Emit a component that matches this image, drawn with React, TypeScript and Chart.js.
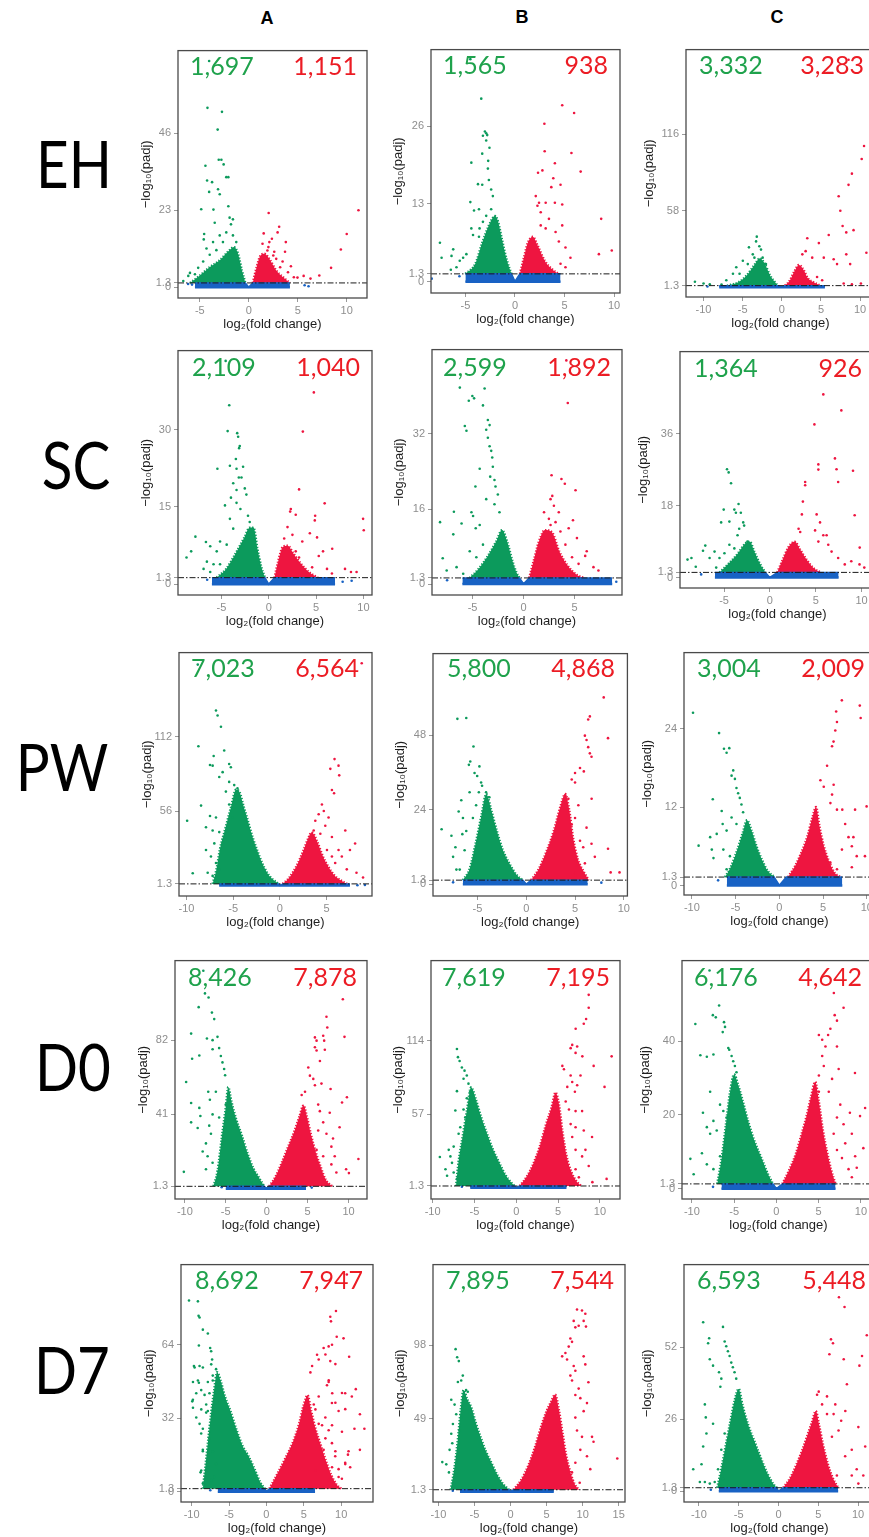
import React, { useEffect, useRef } from "react";
import { Chart, registerables } from "chart.js";

Chart.register(...registerables);

// ---------- colours ----------
const GREEN = "#0c9a5c";
const RED = "#ee1540";
const BLUE = "#1862c4";
const NUM_GREEN = "#1fa24c";
const NUM_RED = "#ec1c24";

// ---------- labels ----------
const ROW_LABELS = ["EH", "SC", "PW", "D0", "D7"];
const COL_LABELS = ["A", "B", "C"];
const DOWN_COUNTS = [
  ["1,697", "1,565", "3,332"],
  ["2,109", "2,599", "1,364"],
  ["7,023", "5,800", "3,004"],
  ["8,426", "7,619", "6,176"],
  ["8,692", "7,895", "6,593"],
];
const UP_COUNTS = [
  ["1,151", "938", "3,283"],
  ["1,040", "1,892", "926"],
  ["6,564", "4,868", "2,009"],
  ["7,878", "7,195", "4,642"],
  ["7,947", "7,544", "5,448"],
];
const X_TITLE = "log\u2082(fold change)";
const Y_TITLE = "\u2212log\u2081\u2080(padj)";

// ---------- tick values ----------
const EH_A_XT = [-5, 0, 5, 10]; const EH_A_YT = [0, 1.3, 23, 46];
const EH_B_XT = [-5, 0, 5, 10]; const EH_B_YT = [0, 1.3, 13, 26];
const EH_C_XT = [-10, -5, 0, 5, 10]; const EH_C_YT = [1.3, 58, 116];
const SC_A_XT = [-5, 0, 5, 10]; const SC_A_YT = [0, 1.3, 15, 30];
const SC_B_XT = [-5, 0, 5]; const SC_B_YT = [0, 1.3, 16, 32];
const SC_C_XT = [-5, 0, 5, 10]; const SC_C_YT = [0, 1.3, 18, 36];
const PW_A_XT = [-10, -5, 0, 5]; const PW_A_YT = [1.3, 56, 112];
const PW_B_XT = [-5, 0, 5, 10]; const PW_B_YT = [0, 1.3, 24, 48];
const PW_C_XT = [-10, -5, 0, 5, 10]; const PW_C_YT = [0, 1.3, 12, 24];
const D0_A_XT = [-10, -5, 0, 5, 10]; const D0_A_YT = [1.3, 41, 82];
const D0_B_XT = [-10, -5, 0, 5, 10]; const D0_B_YT = [1.3, 57, 114];
const D0_C_XT = [-10, -5, 0, 5, 10]; const D0_C_YT = [0, 1.3, 20, 40];
const D7_A_XT = [-10, -5, 0, 5, 10]; const D7_A_YT = [0, 1.3, 32, 64];
const D7_B_XT = [-10, -5, 0, 5, 10, 15]; const D7_B_YT = [1.3, 49, 98];
const D7_C_XT = [-10, -5, 0, 5, 10]; const D7_C_YT = [0, 1.3, 26, 52];

// ---------- data: [x, y, x, y, ...] ----------
// EH / A
const EH_A_GENV = [-6,1.3, -5,3.5, -4,6, -3,8, -2,11, -1.5,12, -1.1,10, -0.7,5, -0.35,1.3];
const EH_A_GPTS = [-4.05,67.6, -4.22,53.6, -2.74,52.4, -3.18,47.1, -3.07,38.1, -2.8,38.1, -2.57,36.7, -4.43,36.3, -4.26,31.9, -3.75,31.4, -2.3,32.9, -2.09,32.9, -4.05,28.5, -3.14,29.3, -2.97,27.8, -4.86,23.3, -3.61,23.2, -2.09,24.2, -1.96,20.8, -3.48,19.3, -4.56,15.9, -4.6,14.3, -4.32,11.6, -1.62,20.3, -1.82,18.8, -2.97,15.5, -3.65,13.5, -2.3,16.4, -2.64,13.5, -3.31,11.1, -3.99,9.7, -4.66,7.7, -5.17,5.8, -6.01,4.3, -6.18,3.4, -6.69,1.9, -5.5,3.9, -1.62,15.5, -1.28,13.5];
const EH_A_RENV = [0.4,1.3, 0.8,6, 1.2,9.5, 1.6,10, 2.2,8, 2.8,5, 3.5,3, 4.2,1.3];
const EH_A_RPTS = [2.03,22.2, 3.1,18.1, 2.94,16.4, 1.52,16.1, 3.78,13.5, 2.36,14.5, 2.1,13.5, 2.6,10.6, 3.7,10.6, 4.3,6.3, 4.97,2.9, 5.6,3.4, 6.3,2.6, 7.2,3.5, 8.4,5.8, 9.4,11.3, 10.0,15.9, 11.2,23.0, 3.45,7.7, 1.76,7.7, 2.0,12, 1.4,13, 2.8,8.5, 3.2,6, 4.0,4.5, 4.6,3.0, 1.9,11, 2.5,9.5];
const EH_A_BAND = [-5.5,1.3, -0.35,1.3, 0,0.05, 0.4,1.3, 4.2,1.3];
const EH_A_BPTS = [5.7,0.6, 6.1,0.3, -5.8,0.8, -6.2,1.0];
// EH / B
const EH_B_GENV = [-5,1.3, -4,3, -3.3,6.5, -2.6,9.5, -2,11, -1.7,10, -1.3,7, -0.8,3.5, -0.35,1.3];
const EH_B_GPTS = [-3.4,30.6, -4.5,37.2, -3.03,25.1, -3.23,24.4, -2.9,24.8, -2.8,24.5, -2.9,23.6, -2.57,22.4, -3.3,21.4, -4.4,19.9, -2.7,20.2, -3.73,16.3, -3.3,16.2, -2.73,18.9, -2.63,17.0, -2.4,15.4, -2.23,14.3, -4.5,13.3, -4.13,11.9, -3.63,12.1, -4.4,8.9, -3.63,7.5, -7.57,6.5, -7.4,4.0, -6.23,5.4, -6.4,4.3, -5.57,3.5, -5.23,4.0, -4.9,4.6, -6.47,2.0, -5.9,2.4, -4.23,7.8, -3.57,8.9, -3.23,10.0, -2.9,11.0, -2.4,12.1];
const EH_B_RENV = [0.5,1.3, 0.9,4, 1.3,6.5, 1.8,7.5, 2.3,6, 3,3.5, 3.8,2, 4.4,1.3];
const EH_B_RPTS = [4.77,29.5, 5.97,28.2, 2.97,26.4, 3.0,21.8, 5.7,21.5, 4.03,19.8, 6.63,18.4, 2.33,18.2, 2.77,18.6, 3.87,17.3, 3.67,15.8, 4.6,16.2, 2.1,14.3, 2.43,13.2, 3.1,13.2, 4.03,13.2, 4.77,12.9, 2.27,12.7, 2.6,11.6, 3.43,10.5, 2.6,9.4, 8.7,10.5, 9.77,5.2, 8.47,4.6, 4.1,8.3, 4.77,9.4, 3.1,8.9, 4.43,6.7, 5.1,5.7, 5.6,4.0, 5.1,2.4, 4.6,3.0];
const EH_B_BAND = [-5,1.3, -0.35,1.3, 0,0.05, 0.5,1.3, 4.6,1.3];
const EH_B_BPTS = [-8.4,0.5, -5.6,0.9];
// EH / C
const EH_C_GENV = [-7,1.3, -5.5,4, -4.5,9, -3.5,17, -2.8,22, -2.2,18, -1.5,9, -0.9,4, -0.5,1.3];
const EH_C_GPTS = [-3.2,38.4, -4.2,30.3, -2.87,31.1, -3.71,25.0, -2.66,28.6, -4.98,20.1, -5.82,15.2, -6.24,10.3, -7.09,5.4, -11.1,4.2, -10.0,2.9, -9.2,2.4, -7.7,2.2, -3.29,34.8, -2.45,22.5, -3.5,22.5, -4.35,17.6, -5.4,10.3, -2.03,17.6];
const EH_C_RENV = [0.4,1.3, 1,5, 1.6,12, 2.2,17, 2.8,13, 3.3,7, 4,4, 5,1.3];
const EH_C_RPTS = [3.25,37.2, 3.04,27.4, 2.62,25.0, 3.88,22.5, 4.73,33.5, 5.36,22.5, 5.99,39.6, 7.26,69.0, 7.47,58.0, 7.76,46.5, 8.23,41.6, 8.52,77.6, 8.95,86.1, 8.52,172.3, 9.16,43.3, 8.23,25.0, 8.73,17.6, 10.2,97.2, 10.5,107, 10.8,26.2, 6.62,21.3, 7.05,17.6, 7.9,2.9, 8.95,2.4, 10.1,2.9, 4.5,7.8, 5.15,5.4];
const EH_C_BAND = [-8,1.3, -0.5,1.3, 0,0.05, 0.4,1.3, 5.5,1.3];
const EH_C_BPTS = [-9.5,0.6];
// SC / A
const SC_A_GENV = [-5.5,1.3, -4.5,3, -3.5,6, -2.6,9, -2,11, -1.6,11, -1.2,7, -0.8,3.5, -0.4,1.3];
const SC_A_GPTS = [-4.55,43.3, -4.17,34.7, -4.34,29.7, -3.33,29.3, -3.23,28.6, -3.06,26.8, -3.13,26.4, -3.47,24.3, -5.42,22.4, -4.1,23.0, -3.4,22.4, -2.71,22.8, -3.16,20.7, -2.88,20.7, -3.75,19.6, -2.53,18.6, -3.4,18.3, -3.99,16.8, -3.4,15.8, -2.36,17.4, -4.62,15.3, -2.99,14.6, -5.14,8.3, -7.74,9.25, -6.63,8.2, -8.19,6.4, -8.68,5.2, -6.18,7.4, -5.49,6.4, -6.53,4.4, -5.83,3.9, -6.88,3.0, -6.18,2.4, -4.1,12.7, -3.75,10.8, -4.44,7.7, -5.14,3.9, -2.19,13.3, -2.01,12.1];
const SC_A_RENV = [0.6,1.3, 1,4.5, 1.5,7.3, 2,7.5, 2.6,6, 3.4,4, 4.3,2.3, 5.2,1.3];
const SC_A_RPTS = [4.76,37.2, 3.6,29.6, 3.2,18.4, 5.9,15.7, 2.33,14.6, 2.85,13.5, 2.26,14.1, 4.9,13.3, 4.86,12.4, 4.34,9.9, 5.1,9.1, 1.98,11.1, 2.5,9.6, 3.54,8.3, 1.63,8.9, 6.7,6.9, 5.73,6.4, 5.28,5.5, 9.96,12.7, 10.03,10.5, 8.05,3.0, 8.68,2.4, 9.27,2.4, 6.15,3.0, 6.67,2.1, 4.58,3.3, 3.2,5.2, 2.85,6.4];
const SC_A_BAND = [-6,1.3, -0.4,1.3, 0,0.05, 0.6,1.3, 7,1.3];
const SC_A_BPTS = [8.75,0.7, 6.67,0.7, -6.5,0.9, 7.8,0.5];
// SC / B
const SC_B_GENV = [-5.3,1.3, -4.5,3, -3.5,6, -2.7,9, -2.1,11.5, -1.6,9, -1.1,5, -0.7,2.5, -0.4,1.3];
const SC_B_GPTS = [-6.25,41.9, -3.82,41.7, -5.02,40.1, -4.85,39.6, -5.37,39.1, -3.98,38.1, -5.76,33.7, -5.6,32.7, -3.5,35.0, -3.33,33.9, -3.66,32.9, -3.5,31.2, -3.33,29.4, -3.17,28.4, -4.3,24.6, -3.07,27.0, -3.01,25.0, -3.27,22.9, -2.85,22.2, -2.75,20.8, -2.52,19.1, -4.72,20.8, -3.66,18.1, -2.85,17.0, -2.36,15.3, -5.11,15.3, -4.95,14.5, -6.83,15.4, -8.19,13.2, -6.08,12.9, -6.89,10.6, -4.69,11.9, -4.3,12.6, -3.98,8.4, -7.93,5.5, -7.54,2.9, -5.92,2.2, -6.57,3.6, -5.28,7.0, -4.63,5.7];
const SC_B_RENV = [0.55,1.3, 1,5, 1.5,9, 2.1,11.5, 2.8,11, 3.5,7, 4.3,4, 5.2,2, 6,1.3];
const SC_B_RPTS = [4.2,47.7, 4.34,38.6, 2.75,23.2, 3.72,22.4, 4.05,21.4, 5.1,20.0, 2.82,18.8, 2.65,18.1, 2.98,16.7, 2.01,15.3, 3.14,13.2, 4.85,13.6, 2.65,12.6, 3.62,11.2, 4.43,11.9, 5.24,9.8, 6.2,7.0, 6.05,6.0, 6.86,3.6, 7.35,2.9, 4.11,8.4, 4.76,5.7, 5.4,4.3, 2.49,13.9, 3.46,15.3];
const SC_B_BAND = [-6,1.3, -0.4,1.3, 0,0.05, 0.55,1.3, 8.7,1.3];
const SC_B_BPTS = [-7.5,0.8, 9.1,0.5];
// SC / C
const SC_C_GENV = [-5.5,1.3, -4.5,3.5, -3.5,6, -2.7,8.5, -2.2,9, -1.7,6.5, -1.1,3.5, -0.5,1.3];
const SC_C_GPTS = [-4.68,27.1, -4.5,26.3, -4.24,23.6, -3.42,18.4, -3.88,17.0, -3.71,16.2, -5.04,17.0, -5.32,13.8, -4.42,14.0, -3.17,16.2, -2.91,13.8, -2.81,13.0, -2.45,9.0, -7.05,8.0, -7.3,6.7, -8.99,4.5, -8.56,4.9, -8.09,2.7, -6.58,4.9, -6.04,6.5, -5.5,4.9, -4.96,6.1, -4.42,8.2, -3.88,7.3, -5.86,2.5, -3.35,12.2, -3.53,10.6];
const SC_C_RENV = [0.8,1.3, 1.4,4.5, 2,7.5, 2.7,9, 3.3,7, 4,4.5, 4.7,2.5, 5.5,1.3];
const SC_C_RPTS = [5.83,45.8, 7.8,41.8, 4.86,38.3, 7.1,29.8, 5.29,28.3, 5.29,27.0, 7.27,27.1, 9.07,26.7, 7.45,23.9, 3.85,23.9, 3.85,23.1, 3.6,19.0, 5.1,15.8, 3.49,15.8, 5.47,13.8, 9.25,15.6, 3.13,12.2, 3.31,11.4, 4.93,11.8, 5.83,10.6, 6.19,10.6, 9.8,7.5, 6.73,6.5, 7.45,4.9, 8.17,3.3, 8.88,4.1, 6.37,8.2, 5.29,9.0, 9.78,3.3, 10.3,2.5];
const SC_C_BAND = [-6,1.3, -0.5,1.3, 0,0.05, 0.8,1.3, 7.5,1.3];
const SC_C_BPTS = [-7.5,0.8];
// PW / A
const PW_A_GENV = [-7.2,1.3, -6.8,12, -6.4,28, -5.8,44, -5.2,60, -4.7,72, -4.3,70, -3.9,60, -3.6,53, -2.9,36, -2.4,26, -1.9,17, -1.3,9, -0.8,4.9, -0.1,1.3];
const PW_A_GPTS = [-8.79,166, -6.84,131.5, -6.67,127.8, -6.31,119.3, -8.72,104.7, -5.96,101.5, -7.09,97.4, -7.48,90.6, -7.2,90.1, -5.43,91.3, -5.25,88.9, -6.13,85.2, -6.49,81.6, -8.44,60.1, -9.93,48.7, -7.48,52.3, -6.84,51.1, -7.2,41.4, -6.49,40.2, -6.13,31.7, -7.02,31.7, -7.91,26.8, -7.38,21.9, -6.84,17.0, -6.49,12.2, -9.33,9.3, -7.73,9.7, -7.2,7.3, -7.91,43.8, -5.43,60.9, -5.07,51.1, -5.78,70.6, -4.89,75.5, -4.54,73.0, -5.43,77.9];
const PW_A_RENV = [0.3,1.3, 1,6, 1.8,15, 2.5,26, 3,35, 3.4,40, 4,33, 4.6,22, 5.2,14, 5.8,8, 6.5,4, 7.2,1.3];
const PW_A_RPTS = [8.76,167, 5.85,95, 6.28,90.1, 5.4,87.7, 6.35,82.8, 5.57,71.8, 5.8,69.4, 4.5,60.9, 4.7,56, 4.15,53.6, 5.21,51.1, 3.79,48.7, 3.62,41.4, 4.33,39.0, 4.86,45.0, 5.57,36.5, 7.0,41.4, 7.5,26.8, 8.05,31.6, 6.63,21.9, 5.92,17.0, 8.2,9.7, 8.9,6.1, 7.16,12.2, 6.28,26.8, 5.57,21.9, 5.04,26.8];
const PW_A_BAND = [-6.5,1.3, -0.1,1.3, 0,0.05, 0.3,1.3, 7.5,1.3];
const PW_A_BPTS = [9.1,0.5, 8.3,0.3];
// PW / B
const PW_B_GENV = [-6.5,1.3, -5.8,5, -5.2,13, -4.6,22, -4.1,29, -3.6,24, -3,17, -2.4,11, -1.7,6.5, -1,3, -0.35,1.3];
const PW_B_GPTS = [-7.06,53.2, -6.15,53.5, -5.41,44.3, -5.74,39.5, -5.88,38.4, -4.8,37.9, -5.3,35.8, -5.03,34.8, -4.63,32.7, -4.53,31.7, -4.86,29.6, -5.81,29.6, -6.66,27.0, -6.93,23.4, -8.68,17.7, -7.67,15.6, -6.55,16.1, -7.26,11.9, -7.5,8.8, -7.16,4.7, -6.49,21.3, -6.15,17.1, -5.47,21.3, -5.14,25.4, -4.12,29.6, -3.78,28.0, -6.82,4.7, -6.32,10.9];
const PW_B_RENV = [0.5,1.3, 1.3,5, 2,10, 2.8,17, 3.5,25, 4,29, 4.4,24, 4.8,15, 5.3,8, 5.9,4, 6.4,1.3];
const PW_B_RPTS = [7.3,70.9, 7.94,60.1, 6.52,54.0, 6.35,53.0, 8.38,47.0, 6.01,47.8, 6.18,46.4, 6.35,44.1, 6.52,42.1, 6.69,41.0, 5.9,36.3, 5.0,35.8, 5.51,37.4, 4.66,33.7, 5.0,32.7, 3.99,28.6, 4.32,27.5, 6.7,27.5, 5.34,25.4, 5.0,21.3, 4.66,19.2, 6.18,18.2, 5.51,14.0, 5.84,11.9, 6.69,13.0, 7.03,8.8, 8.38,11.4, 8.65,3.8, 9.56,3.8, 4.66,8.8, 6.01,6.7, 5.0,3.6];
const PW_B_BAND = [-6.5,1.3, -0.35,1.3, 0,0.05, 0.5,1.3, 6.3,1.3];
const PW_B_BPTS = [7.7,0.5, -7.5,0.6];
// PW / C
const PW_C_GENV = [-6.2,1.3, -5.5,3, -4.8,5.5, -4.2,8, -3.7,10, -3.2,8.5, -2.6,6, -2,4, -1.3,2.2, -0.5,1.3];
const PW_C_GPTS = [-9.87,26.4, -6.89,23.3, -6.33,20.9, -6.03,20.3, -5.72,21.0, -5.27,17.6, -5.46,16.8, -5.08,16.3, -4.9,14.9, -4.71,14.1, -4.52,13.4, -4.33,12.4, -4.14,11.2, -7.61,13.2, -6.59,11.4, -6.48,9.4, -6.03,8.4, -5.46,10.4, -7.16,7.9, -7.91,7.4, -9.23,6.1, -7.72,5.5, -7.53,4.2, -6.4,5.5, -5.65,4.5, -6.03,2.5, -5.35,2.0, -4.9,9.4];
const PW_C_RENV = [1,1.3, 1.8,3, 2.5,5, 3.2,7.5, 3.8,10.5, 4.2,12, 4.6,9, 5.1,6, 5.6,4, 6.3,2, 7,1.3];
const PW_C_RPTS = [7.83,33.9, 7.15,28.3, 6.5,26.6, 9.2,27.5, 9.3,25.6, 6.59,25.0, 6.4,23.7, 6.2,22.0, 6.03,21.3, 5.46,18.3, 4.7,16.1, 5.08,15.1, 6.21,15.4, 6.03,13.9, 5.84,12.6, 7.2,11.6, 6.59,11.6, 8.66,11.6, 9.98,12.1, 7.53,9.4, 7.91,7.4, 8.47,7.4, 8.29,6.0, 8.85,4.5, 7.16,5.5, 9.79,4.5, 8.29,2.8, 6.59,2.5, 5.84,3.5, 4.9,5.5];
const PW_C_BAND = [-6,1.3, -0.6,1.3, 0,0.05, 0.8,1.3, 7.2,1.3];
const PW_C_BPTS = [-7,0.8];
// D0 / A
const D0_A_GENV = [-6.5,1.3, -6,10, -5.5,28, -5,45, -4.7,56, -4.3,48, -3.7,38, -3,29, -2.3,19, -1.6,11, -1,6.5, -0.3,1.3];
const D0_A_GPTS = [-7.74,120.3, -7.54,107.8, -7.1,105.5, -8.31,100.2, -6.69,97.2, -6.41,93.6, -9.23,85.6, -7.3,82.9, -6.61,82.0, -6.01,83.8, -8.23,73.5, -9.11,71.7, -6.61,77.0, -5.81,77.6, -5.6,73.2, -5.4,69.7, -5.2,66.1, -5.08,62.6, -9.84,58.9, -7.14,53.5, -6.94,49.1, -9.23,47.3, -8.23,44.6, -8.1,40.1, -9.23,36.6, -8.43,33.5, -7.02,34.8, -7.42,25.0, -6.81,30.3, -7.82,20.5, -7.22,17.9, -6.61,14.3, -7.42,10.7, -10.12,9.3, -6.61,41.0, -5.81,39.3, -6.21,53.5, -5.0,46.4];
const D0_A_RENV = [0.3,1.3, 1,6, 1.8,14, 2.6,23, 3.4,32, 4,40, 4.5,46, 4.9,40, 5.4,30, 6,20, 6.6,12, 7.2,5, 8,1.3];
const D0_A_RPTS = [9.3,104.6, 7.3,94.9, 7.4,89.0, 6.9,84.4, 5.89,83.5, 6.09,81.7, 7.02,81.7, 5.89,78.1, 6.09,76.3, 7.1,76.7, 9.5,83.8, 6.5,70.5, 5.08,66.9, 5.28,62.4, 5.69,60.6, 5.89,57.1, 6.69,58.0, 7.8,55.0, 9.8,50.5, 9.2,47.6, 4.68,53.5, 4.27,51.7, 6.29,46.4, 6.49,42.8, 7.7,41.9, 8.9,33.9, 6.9,36.6, 7.3,30.3, 6.29,32.1, 8.1,27.7, 7.9,23.2, 11.2,16.4, 9.7,10.7, 10.04,8.6, 8.51,8.9, 7.9,13.4, 8.31,17.9, 6.9,17.9, 6.09,21.4];
const D0_A_BAND = [-5,1.3, -0.3,1.3, 0,0.05, 0.3,1.3, 4.8,1.3];
const D0_A_BPTS = [-5.5,0.8, 5.5,0.6];
// D0 / B
const D0_B_GENV = [-7.2,1.3, -6.9,20, -6.4,40, -5.9,60, -5.4,78, -4.8,68, -4.2,55, -3.5,42, -2.8,30, -2,19, -1.3,10, -0.6,4, -0.2,1.3];
const D0_B_GPTS = [-7.09,107.7, -6.97,101.4, -6.77,98.4, -6.5,93.4, -6.18,90.9, -5.91,87.1, -6.3,84.6, -5.71,80.8, -7.09,75.0, -7.28,60.0, -6.3,60.7, -6.1,54.5, -6.69,46.9, -6.89,41.9, -7.48,31.9, -8.07,29.4, -9.13,23.8, -7.87,24.3, -7.68,19.3, -8.46,14.3, -8.27,9.3, -7.48,11.8, -7.09,6.8, -5.91,69.5, -5.51,74.5];
const D0_B_RENV = [0.4,1.3, 1.2,8, 2,18, 2.8,32, 3.5,48, 4.2,62, 4.7,74, 5.1,65, 5.5,45, 6,25, 6.6,12, 7.2,5, 7.8,1.3];
const D0_B_RPTS = [9.06,168.7, 8.66,149.8, 8.66,139.8, 8.35,131.0, 8.07,127.3, 7.1,123.5, 6.69,110.9, 6.5,108.4, 7.28,109.7, 7.09,104.7, 7.9,102.0, 11.4,102.0, 9.25,94.6, 5.51,94.6, 5.7,92.0, 6.5,87.1, 6.69,82.1, 7.68,87.1, 7.28,79.6, 7.01,74.5, 6.1,78.3, 10.55,78.3, 5.91,67.0, 6.3,60.7, 7.09,59.5, 7.87,59.5, 6.5,49.4, 7.09,46.9, 8.07,44.4, 9.06,39.4, 6.69,39.4, 7.09,29.4, 8.27,29.4, 7.87,24.3, 8.66,16.8, 7.09,14.3, 7.48,8.0, 10.8,6.8, 9.1,4.3];
const D0_B_BAND = [-5.5,1.3, -0.2,1.3, 0,0.05, 0.4,1.3, 6,1.3];
const D0_B_BPTS = [-6.5,0.7];
// D0 / C
const D0_C_GENV = [-7,1.3, -6.5,8, -6,17, -5.5,26, -5,31, -4.5,28, -4,24, -3.3,18, -2.6,13, -1.8,8.5, -1,4, -0.4,1.3];
const D0_C_GPTS = [-7.91,59.2, -6.78,49.7, -7.52,47.1, -7.17,46.5, -6.2,45.2, -6.08,43.9, -9.59,44.7, -6.35,42.5, -5.69,38.2, -5.58,37.7, -9.0,36.2, -8.23,35.8, -7.45,36.4, -5.3,36.0, -5.11,34.6, -4.91,33.3, -4.72,31.6, -7.84,26.3, -8.69,20.6, -8.23,16.7, -7.45,18.4, -7.84,14.9, -7.06,15.8, -6.67,22.8, -6.28,21.1, -5.89,19.3, -8.81,9.6, -10.18,8.1, -8.23,6.6, -7.45,5.3, -9.79,3.9, -6.67,8.8, -6.08,10.5];
const D0_C_RENV = [0.7,1.3, 1.5,5, 2.3,9.5, 3,15, 3.6,20, 4.1,25, 4.6,29, 5,24, 5.5,16, 6,10, 6.5,5, 7,1.3];
const D0_C_RPTS = [6.8,53.1, 7.95,49.1, 6.9,47.1, 7.17,45.6, 6.39,43.4, 6.12,41.7, 5.03,41.7, 5.42,40.4, 5.81,38.6, 7.17,38.6, 9.3,31.4, 5.42,36.0, 5.61,33.3, 5.03,30.7, 7.37,32.5, 6.59,29.8, 5.03,26.3, 6.2,26.3, 7.56,22.8, 8.7,20.6, 10.5,21.9, 9.9,19.7, 7.17,19.3, 7.95,17.5, 6.78,14.9, 8.15,12.3, 8.93,14.9, 7.17,10.5, 7.76,8.3, 9.32,8.8, 10.29,11.0, 8.54,5.3, 8.93,3.1, 9.51,5.7];
const D0_C_BAND = [-6.5,1.3, -0.4,1.3, 0,0.05, 0.7,1.3, 7,1.3];
const D0_C_BPTS = [-7.5,0.5];
// D7 / A
const D7_A_GENV = [-8.5,1.3, -8.2,10, -7.8,22, -7.4,34, -7,44, -6.6,52, -6.1,48, -5.5,41, -4.8,35, -4,27, -3.2,20, -2.4,15.5, -1.6,10, -0.8,4, -0.2,1.3];
const D7_A_GPTS = [-10.35,83.2, -9.16,82.8, -9.07,76.5, -8.94,75.8, -8.5,70.5, -7.83,68.8, -9.03,63.6, -7.52,62.5, -7.39,61.1, -9.69,54.7, -8.94,54.7, -7.26,57.5, -9.82,47.7, -9.03,47.4, -8.72,44.2, -7.83,47.7, -7.17,50.5, -9.91,39.3, -9.82,36.5, -9.38,32.3, -8.94,29.5, -8.72,25.3, -8.5,18.2, -8.81,8.4, -8.05,37.9, -8.27,42.1, -7.83,35.1, -6.73,53.3, -9.83,40.0, -9.38,42.8, -8.71,35.8, -8.5,27.4, -8.05,34.4, -7.61,23.2, -7.17,17.6, -6.72,12.0, -8.5,17.6, -7.83,10.6, -7.38,5.0, -6.95,6.4, -8.71,9.2, -8.5,3.6, -7.61,42.8, -7.17,48.4, -9.16,48.4, -9.6,54.0, -8.5,54.0, -7.38,55.4, -6.5,45.6, -6.28,38.6];
const D7_A_RENV = [0.4,1.3, 1.5,8, 2.6,15, 3.6,22, 4.4,30, 5,38, 5.5,42, 6,35, 6.6,27, 7.3,20, 8,13, 8.7,7, 9.4,3, 10,1.3];
const D7_A_RPTS = [10.75,94.5, 9.3,78.6, 8.54,76.1, 8.63,74.1, 9.4,67.4, 10.31,66.7, 7.65,62.5, 8.32,63.2, 6.77,59.6, 6.99,57.5, 8.54,56.8, 11.06,58.7, 6.11,54.7, 5.88,51.9, 8.32,47.7, 8.1,46.3, 8.8,42.8, 6.99,41.4, 10.53,42.8, 11.42,41.4, 11.95,44.6, 6.33,37.9, 6.55,35.8, 8.76,38.6, 9.65,35.1, 12.5,33.7, 13.1,27.4, 11.77,27.4, 12.5,18.2, 10.9,16.1, 10.53,12.6, 9.65,9.8, 7.88,32.3, 8.32,26.7, 6.99,29.5, 8.76,21.1, 7.65,18.2, 9.2,15.4, 10.09,5.6, 8.76,4.2, 7.89,59.7, 8.77,63.9, 9.22,55.5, 8.33,48.5, 10.1,42.9, 9.22,38.7, 10.54,35.9, 7.44,28.9, 8.77,28.9, 10.1,26.1, 10.98,17.6, 7.89,23.2, 9.22,17.6, 10.54,12.0, 8.77,10.6, 9.65,6.4, 7.44,14.8, 6.56,9.2, 11.2,10.6, 8.33,5.0];
const D7_A_BAND = [-6.5,1.3, -0.2,1.3, 0,0.05, 0.4,1.3, 6.5,1.3];
const D7_A_BPTS = [-7.5,0.6];
// D7 / B
const D7_B_GENV = [-8.3,1.3, -7.8,15, -7.3,35, -6.9,55, -6.5,68, -6,62, -5.4,56, -4.8,46, -4.1,36, -3.4,27, -2.6,19, -1.8,11, -1,5, -0.2,1.3];
const D7_B_GPTS = [-7.61,95.4, -7.39,90.0, -7.16,87.4, -6.61,77.7, -7.29,73.4, -6.83,74.4, -6.15,68.0, -5.92,66.9, -8.21,61.5, -7.75,58.3, -7.52,51.8, -7.98,45.3, -8.21,38.8, -8.07,32.4, -8.44,28.0, -9.45,19.8, -8.9,18.3, -8.53,12.9, -7.52,19.4, -7.52,10.8, -7.06,41.0, -6.83,49.6];
const D7_B_RENV = [0.4,1.3, 1.5,8, 2.5,18, 3.4,30, 4.2,43, 5,54, 5.6,60, 6.2,65, 6.7,55, 7.2,40, 7.7,25, 8.3,13, 8.9,5, 9.5,1.3];
const D7_B_RPTS = [12.57,145, 9.22,121.9, 9.91,121.3, 10.37,119.1, 8.76,114.3, 8.99,110.0, 10.14,114.3, 10.46,110.5, 9.45,111.1, 8.3,102.5, 8.53,100.3, 8.07,97.1, 7.61,92.8, 7.84,88.5, 7.16,90.6, 10.14,90.6, 10.37,85.2, 8.76,84.1, 8.99,80.9, 8.3,77.7, 8.53,74.4, 10.8,73.3, 9.45,69.0, 8.99,64.7, 9.68,62.6, 10.6,59.3, 10.14,53.9, 11.3,36.7, 11.51,33.4, 14.8,22.2, 8.99,49.6, 9.22,41.0, 9.91,36.7, 9.68,28.0, 10.6,23.7, 11.06,15.1, 8.99,19.4, 8.53,12.9, 9.59,6.0];
const D7_B_BAND = [-7,1.3, -0.2,1.3, 0,0.05, 0.4,1.3, 6,1.3];
const D7_B_BPTS = [-8,0.6];
// D7 / C
const D7_C_GENV = [-7.7,1.3, -7.2,8, -6.6,17, -6,26, -5.5,33, -5,37, -4.5,31, -3.8,24, -3,18, -2.2,12, -1.4,6.5, -0.6,2.5, -0.2,1.3];
const D7_C_GPTS = [-9.46,61.1, -6.97,59.4, -8.71,55.3, -8.84,53.5, -6.76,54.1, -6.56,52.4, -6.35,50.6, -6.14,48.9, -5.93,46.5, -5.73,44.8, -5.52,43.0, -5.31,40.7, -8.63,47.7, -8.22,45.4, -7.47,43.0, -7.18,40.7, -7.3,37.8, -9.25,31.4, -9.13,26.7, -9.05,20.9, -8.22,24.4, -9.46,16.2, -10.71,8.0, -9.67,9.8, -9.88,3.4, -9.25,3.4, -8.63,2.8, -8.01,3.4, -7.39,2.2, -6.97,4.5, -7.59,8.0, -7.18,15.0, -6.76,20.9];
const D7_C_RENV = [0.6,1.3, 1.5,5, 2.3,10, 3,15, 3.6,20, 4.2,25, 4.7,29, 5.1,24, 5.6,17, 6.2,10, 6.8,5, 7.5,1.3];
const D7_C_RPTS = [7.6,70.1, 8.3,66.6, 6.6,54.9, 6.85,53.5, 6.4,49.5, 8.2,47.7, 10.5,48.9, 11.1,56.4, 10.17,45.4, 8.6,38.7, 5.06,36.0, 4.85,34.9, 6.1,34.3, 5.48,31.4, 7.14,31.4, 6.93,27.9, 6.1,27.9, 8.4,29.0, 7.88,25.5, 10.9,16.2, 10.04,23.2, 7.55,22.0, 6.72,19.7, 9.21,15.0, 8.38,12.7, 9.83,8.0, 9.21,5.7, 7.34,5.7, 10.66,5.7, 10.04,2.8];
const D7_C_BAND = [-7.5,1.3, -0.2,1.3, 0,0.05, 0.6,1.3, 7.5,1.3];
const D7_C_BPTS = [-8.5,0.6];

// ---------- layout (page pixels) ----------
type PanelDef = {
  frame: number[]; yw: number; xr: number[]; yr: number[];
  xt: number[]; yt: number[];
  genv: number[]; gpts: number[]; renv: number[]; rpts: number[]; band: number[]; bpts: number[];
  row: number; col: number; num: number[];
};

const PANELS: PanelDef[] = [
  { row: 0, col: 0, frame: [178, 43, 369, 298], yw: 39, xr: [-7.23, 12.07], yr: [-3.2, 70.7], xt: EH_A_XT, yt: EH_A_YT, genv: EH_A_GENV, gpts: EH_A_GPTS, renv: EH_A_RENV, rpts: EH_A_RPTS, band: EH_A_BAND, bpts: EH_A_BPTS, num: [190, 357, 66] },
  { row: 0, col: 1, frame: [431, 42, 622, 293], yw: 40, xr: [-8.47, 10.6], yr: [-1.9, 38.8], xt: EH_B_XT, yt: EH_B_YT, genv: EH_B_GENV, gpts: EH_B_GPTS, renv: EH_B_RENV, rpts: EH_B_RPTS, band: EH_B_BAND, bpts: EH_B_BPTS, num: [443, 608, 65] },
  { row: 0, col: 2, frame: [686, 42, 877, 297], yw: 44, xr: [-12.24, 11.9], yr: [-7.3, 180], xt: EH_C_XT, yt: EH_C_YT, genv: EH_C_GENV, gpts: EH_C_GPTS, renv: EH_C_RENV, rpts: EH_C_RPTS, band: EH_C_BAND, bpts: EH_C_BPTS, num: [699, 864, 65] },
  { row: 1, col: 0, frame: [178, 343, 374, 595], yw: 39, xr: [-9.58, 10.9], yr: [-2.06, 45.3], xt: SC_A_XT, yt: SC_A_YT, genv: SC_A_GENV, gpts: SC_A_GPTS, renv: SC_A_RENV, rpts: SC_A_RPTS, band: SC_A_BAND, bpts: SC_A_BPTS, num: [192, 360, 367] },
  { row: 1, col: 1, frame: [432, 342, 624, 595], yw: 40, xr: [-8.98, 9.66], yr: [-2.34, 50], xt: SC_B_XT, yt: SC_B_YT, genv: SC_B_GENV, gpts: SC_B_GPTS, renv: SC_B_RENV, rpts: SC_B_RPTS, band: SC_B_BAND, bpts: SC_B_BPTS, num: [443, 611, 367] },
  { row: 1, col: 2, frame: [680, 344, 877, 588], yw: 44, xr: [-9.81, 11.47], yr: [-2.6, 56.5], xt: SC_C_XT, yt: SC_C_YT, genv: SC_C_GENV, gpts: SC_C_GPTS, renv: SC_C_RENV, rpts: SC_C_RPTS, band: SC_C_BAND, bpts: SC_C_BPTS, num: [694, 862, 368] },
  { row: 2, col: 0, frame: [179, 645, 374, 896], yw: 39, xr: [-10.8, 9.86], yr: [-7.8, 175], xt: PW_A_XT, yt: PW_A_YT, genv: PW_A_GENV, gpts: PW_A_GPTS, renv: PW_A_RENV, rpts: PW_A_RPTS, band: PW_A_BAND, bpts: PW_A_BPTS, num: [191, 359, 668] },
  { row: 2, col: 1, frame: [433, 646, 630, 896], yw: 40, xr: [-9.56, 10.37], yr: [-3.8, 74.2], xt: PW_B_XT, yt: PW_B_YT, genv: PW_B_GENV, gpts: PW_B_GPTS, renv: PW_B_RENV, rpts: PW_B_RPTS, band: PW_B_BAND, bpts: PW_B_BPTS, num: [447, 615, 668] },
  { row: 2, col: 2, frame: [684, 645, 877, 895], yw: 44, xr: [-10.9, 10.94], yr: [-1.44, 35.6], xt: PW_C_XT, yt: PW_C_YT, genv: PW_C_GENV, gpts: PW_C_GPTS, renv: PW_C_RENV, rpts: PW_C_RPTS, band: PW_C_BAND, bpts: PW_C_BPTS, num: [697, 865, 668] },
  { row: 3, col: 0, frame: [175, 953, 369, 1199], yw: 39, xr: [-11.2, 12.25], yr: [-5.7, 125.9], xt: D0_A_XT, yt: D0_A_YT, genv: D0_A_GENV, gpts: D0_A_GPTS, renv: D0_A_RENV, rpts: D0_A_RPTS, band: D0_A_BAND, bpts: D0_A_BPTS, num: [188, 357, 977] },
  { row: 3, col: 1, frame: [431, 953, 622, 1199], yw: 40, xr: [-10.19, 12.4], yr: [-8.8, 176.4], xt: D0_B_XT, yt: D0_B_YT, genv: D0_B_GENV, gpts: D0_B_GPTS, renv: D0_B_RENV, rpts: D0_B_RPTS, band: D0_B_BAND, bpts: D0_B_BPTS, num: [442, 610, 977] },
  { row: 3, col: 2, frame: [682, 953, 877, 1199], yw: 44, xr: [-11.17, 11.67], yr: [-2.8, 61.9], xt: D0_C_XT, yt: D0_C_YT, genv: D0_C_GENV, gpts: D0_C_GPTS, renv: D0_C_RENV, rpts: D0_C_RPTS, band: D0_C_BAND, bpts: D0_C_BPTS, num: [694, 862, 977] },
  { row: 4, col: 0, frame: [181, 1257, 375, 1502], yw: 39, xr: [-11.42, 14.25], yr: [-4.5, 98.8], xt: D7_A_XT, yt: D7_A_YT, genv: D7_A_GENV, gpts: D7_A_GPTS, renv: D7_A_RENV, rpts: D7_A_RPTS, band: D7_A_BAND, bpts: D7_A_BPTS, num: [195, 363, 1280] },
  { row: 4, col: 1, frame: [433, 1257, 627, 1502], yw: 40, xr: [-10.74, 15.87], yr: [-6.9, 152], xt: D7_B_XT, yt: D7_B_YT, genv: D7_B_GENV, gpts: D7_B_GPTS, renv: D7_B_RENV, rpts: D7_B_RPTS, band: D7_B_BAND, bpts: D7_B_BPTS, num: [446, 614, 1280] },
  { row: 4, col: 2, frame: [684, 1257, 877, 1502], yw: 44, xr: [-11.87, 12.13], yr: [-3.85, 81.9], xt: D7_C_XT, yt: D7_C_YT, genv: D7_C_GENV, gpts: D7_C_GPTS, renv: D7_C_RENV, rpts: D7_C_RPTS, band: D7_C_BAND, bpts: D7_C_BPTS, num: [697, 866, 1280] },
];

const ROW_LABEL_POS = [[74, 165], [76, 466], [62, 768], [73, 1068], [72, 1371]];
const COL_LABEL_POS = [[267, 18], [522, 17], [777, 17]];

const XH = 34; // height of x axis box (ticks + title)

const pairs = (a: number[]) => {
  const out: { x: number; y: number }[] = [];
  for (let i = 0; i < a.length; i += 2) out.push({ x: a[i], y: a[i + 1] });
  return out;
};

const framePlugin = {
  id: "frameBox",
  afterDraw(chart: any) {
    const { ctx, chartArea: a } = chart;
    ctx.save();
    ctx.strokeStyle = "#4a4a4a";
    ctx.lineWidth = 1.3;
    ctx.strokeRect(a.left, a.top, a.right - a.left, a.bottom - a.top);
    ctx.restore();
  },
};

function Volcano({ p }: { p: PanelDef }) {
  const ref = useRef<HTMLCanvasElement | null>(null);
  const [l, t, r, b] = p.frame;
  const left = l - p.yw;
  const top = t - 2;
  const w = r - l + p.yw + 2;
  const h = b - t + XH + 2;

  useEffect(() => {
    const canvas = ref.current;
    if (!canvas) return;
    const tickFont = { family: "'Liberation Sans', Arial, sans-serif", size: 11 };
    const titleFont = { family: "'Liberation Sans', Arial, sans-serif", size: 13 };
    const cloud = (env: number[], color: string) => ({
      data: pairs(env),
      showLine: true,
      fill: { value: 1.3 },
      backgroundColor: color,
      borderColor: color,
      borderWidth: 2.4,
      borderDash: [1.3, 1.7],
      pointRadius: 0,
      cubicInterpolationMode: "monotone",
      order: 6,
    });
    const dots = (pts: number[], color: string, order: number) => ({
      data: pairs(pts),
      pointRadius: 1.3,
      pointBackgroundColor: color,
      pointBorderWidth: 0,
      order,
    });
    const chart = new Chart(canvas, {
      type: "scatter",
      data: {
        datasets: [
          cloud(p.genv, GREEN) as any,
          cloud(p.renv, RED) as any,
          dots(p.gpts, GREEN, 5),
          dots(p.rpts, RED, 5),
          { data: pairs(p.band), showLine: true, fill: { value: 0 }, backgroundColor: BLUE, borderColor: BLUE, borderWidth: 1.5, pointRadius: 0, order: 3 } as any,
          { data: [{ x: p.band[0], y: 0 }, { x: p.band[p.band.length - 2], y: 0 }], showLine: true, borderColor: BLUE, borderWidth: 2.5, pointRadius: 0, order: 3 },
          dots(p.bpts, BLUE, 3),
          { data: [{ x: p.xr[0], y: 1.3 }, { x: p.xr[1], y: 1.3 }], showLine: true, borderColor: "#1a1a1a", borderWidth: 1, borderDash: [6, 2, 1.5, 2], pointRadius: 0, order: 1 },
        ],
      },
      options: {
        animation: false,
        responsive: false,
        maintainAspectRatio: false,
        events: [],
        layout: { padding: { top: 2, right: 2, left: 0, bottom: 0 } },
        plugins: { legend: { display: false }, tooltip: { enabled: false } },
        scales: {
          x: {
            type: "linear",
            min: p.xr[0],
            max: p.xr[1],
            afterFit: (s: any) => { s.height = XH; },
            afterBuildTicks: (s: any) => { s.ticks = p.xt.map((v) => ({ value: v })); },
            ticks: { color: "#8e8e8e", font: tickFont, padding: 2, autoSkip: false, maxRotation: 0, callback: (v: any) => String(v) },
            grid: { drawOnChartArea: false, drawTicks: true, tickLength: 4, color: "#9a9a9a" },
            border: { display: false },
            title: { display: true, text: X_TITLE, color: "#1e1e1e", font: titleFont, padding: 0 },
          },
          y: {
            type: "linear",
            min: p.yr[0],
            max: p.yr[1],
            afterFit: (s: any) => { s.width = p.yw; },
            afterBuildTicks: (s: any) => { s.ticks = p.yt.map((v) => ({ value: v })); },
            ticks: { color: "#8e8e8e", font: tickFont, padding: 3, autoSkip: false, callback: (v: any) => String(v) },
            grid: { drawOnChartArea: false, drawTicks: true, tickLength: 4, color: "#9a9a9a" },
            border: { display: false },
            title: { display: true, text: Y_TITLE, color: "#1e1e1e", font: titleFont, padding: 0 },
          },
        },
      } as any,
      plugins: [framePlugin],
    });
    return () => chart.destroy();
  }, []);

  return (
    <canvas
      ref={ref}
      width={w}
      height={h}
      style={{ position: "absolute", left, top, width: w, height: h }}
    />
  );
}

export default function App() {
  return (
    <div
      style={{
        position: "absolute",
        left: 0,
        top: 0,
        width: 869,
        height: 1537,
        overflow: "hidden",
        background: "#ffffff",
      }}
    >
      {PANELS.map((p, i) => (
        <Volcano key={i} p={p} />
      ))}
      {PANELS.map((p, i) => (
        <React.Fragment key={"n" + i}>
          <div
            style={{
              position: "absolute",
              left: p.num[0],
              top: p.num[2] - 13,
              font: "400 25px Lato, 'Open Sans', sans-serif",
              lineHeight: "25px",
              color: NUM_GREEN,
              whiteSpace: "nowrap",
            }}
          >
            {DOWN_COUNTS[p.row][p.col]}
          </div>
          <div
            style={{
              position: "absolute",
              left: p.num[1] - 120,
              width: 120,
              textAlign: "right",
              top: p.num[2] - 13,
              font: "400 25px Lato, 'Open Sans', sans-serif",
              lineHeight: "25px",
              color: NUM_RED,
              whiteSpace: "nowrap",
            }}
          >
            {UP_COUNTS[p.row][p.col]}
          </div>
        </React.Fragment>
      ))}
      {ROW_LABELS.map((s, i) => (
        <div
          key={"r" + i}
          style={{
            position: "absolute",
            left: ROW_LABEL_POS[i][0] - 100,
            width: 200,
            top: ROW_LABEL_POS[i][1] - 34,
            textAlign: "center",
            font: "400 65px Lato, 'Open Sans', sans-serif",
            lineHeight: "65px",
            color: "#000",
            transform: "scaleX(0.87)",
          }}
        >
          {s}
        </div>
      ))}
      {COL_LABELS.map((s, i) => (
        <div
          key={"c" + i}
          style={{
            position: "absolute",
            left: COL_LABEL_POS[i][0] - 50,
            width: 100,
            top: COL_LABEL_POS[i][1] - 10,
            textAlign: "center",
            font: "700 18px 'Liberation Sans', Arial, sans-serif",
            lineHeight: "20px",
            color: "#000",
          }}
        >
          {s}
        </div>
      ))}
    </div>
  );
}
